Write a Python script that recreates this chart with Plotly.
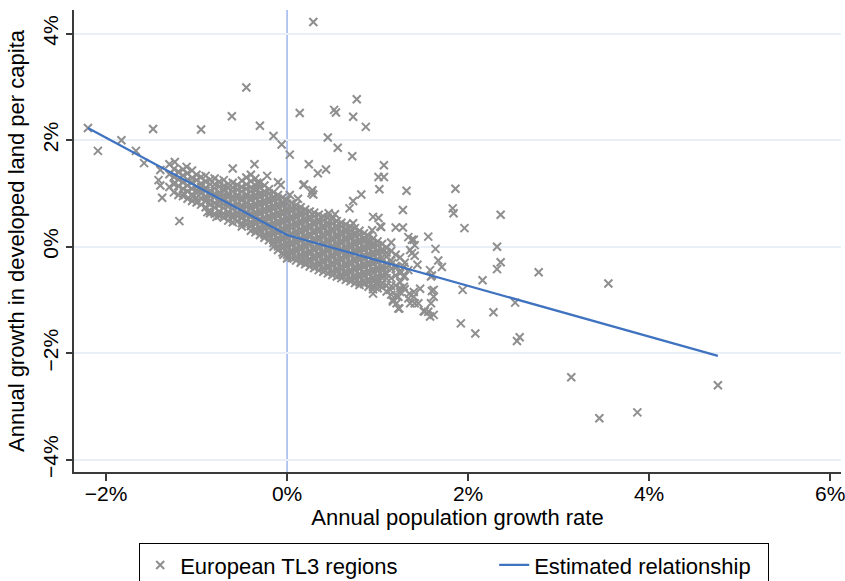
import plotly.graph_objects as go

# ---------------- data (percent) ----------------
# scattered regions
outlier_x = [0.29, -0.45, -2.20, -2.09, -1.83, -1.48, -0.95, -0.61, -0.30, -0.15, -0.06, 0.03,
             0.14, 0.52, 0.54, 0.73, 0.77, 0.87, 0.45, 0.56, 0.72, 0.24, 0.34, 0.43, 0.19,
             0.28, 0.29, 0.27, 0.12, 0.03, -0.60, -0.36, -0.22, -0.10, -0.07, -1.24, -1.11,
             -1.40, -1.58, -1.67, -1.19, -1.38, -1.42, -1.40, -1.20, -1.24, -1.15, -1.14,
             -1.04, -0.96, -0.89, -0.85, -0.78, -0.88, 1.07, 1.01, 1.07, 1.02, 0.82, 0.73,
             0.69, 1.32, 1.28, 1.86, 1.83, 1.84, 1.96, 0.95, 1.01, 1.04, 0.94, 1.20, 1.28,
             1.15, 1.56, 1.64, 1.67, 1.71, 1.60, 1.47, 1.60, 1.59, 1.52, 1.58, 1.92, 2.08,
             1.94, 1.38, 1.38, 1.41, 1.36, 1.23, 1.17, 2.36, 2.32, 2.36, 2.32, 2.78, 3.55,
             2.16, 2.52, 2.28, 2.54, 2.57, 3.14, 3.45, 3.87, 4.76, 1.34, 1.40, 1.36, 1.41,
             1.44, 1.40, 1.40, 1.45, 1.51, 1.56, 1.62, 1.58, 1.59, 1.62, 1.62, 1.25, 1.23,
             1.17, 1.21, 1.24, 1.35, 1.34, 0.95, 0.99, 1.08, 1.14, 1.29, 1.16, 1.21, 1.25,
             0.46, 0.53, 0.73, 1.03, 1.41, 0.18, 0.18, 0.66, 0.70, 0.90, 0.94, 1.29, 1.29,
             1.34, -0.04, 0.01, 0.16, 0.59, -0.33, -0.33, -0.69]
outlier_y = [4.22, 2.99, 2.23, 1.80, 2.00, 2.21, 2.20, 2.45, 2.27, 2.08, 1.92, 1.73,
             2.51, 2.57, 2.52, 2.44, 2.77, 2.25, 2.05, 1.86, 1.70, 1.55, 1.38, 1.45, 1.17,
             1.06, 0.98, 1.01, 0.90, 0.97, 1.47, 1.55, 1.33, 1.21, 1.16, 1.59, 1.50,
             1.44, 1.57, 1.80, 0.48, 0.92, 1.25, 1.15, 1.40, 1.20, 1.21, 1.00,
             0.94, 1.06, 0.88, 0.63, 0.56, 0.65, 1.53, 1.31, 1.31, 1.08, 0.98, 0.86,
             0.72, 1.05, 0.69, 1.09, 0.72, 0.63, 0.35, 0.56, 0.54, 0.37, 0.31, 0.36, 0.36,
             0.08, 0.19, -0.04, -0.26, -0.38, -0.54, -0.79, -0.83, -1.06, -1.21, -1.31, -1.44, -1.63,
             -0.81, 0.13, -0.12, -1.06, -1.06, -1.16, -1.00, 0.60, 0.00, -0.29, -0.42, -0.48, -0.69,
             -0.63, -1.05, -1.23, -1.77, -1.70, -2.45, -3.22, -3.11, -2.60, 0.18, 0.13, -0.06, -0.17,
             -0.34, -0.85, -0.94, -1.06, -1.21, -1.22, -1.28, -0.44, -0.56, -0.81, -0.94, -0.78, -0.94,
             -1.03, -1.06, -1.16, -0.88, -0.97, -0.88, -0.66, -0.50, -0.81, -0.75, -0.31, -0.38, -0.50,
             0.63, 0.61, 0.44, 0.38, 0.03, 0.66, 1.16, 0.31, 0.19, 0.06, 0.03, -0.56, -0.38,
             -0.44, -0.15, -0.20, -0.28, -0.53, 1.20, 1.08, 1.06]

# dense core of regions, read column by column (x: population growth, y values listed)
core_x = [-1.30, -1.25, -1.20, -1.15, -1.10, -1.05, -1.00, -0.95, -0.90, -0.85, -0.80, -0.75,
          -0.70, -0.65, -0.60, -0.55, -0.50, -0.45, -0.40, -0.35, -0.30, -0.25, -0.20, -0.15,
          -0.10, -0.05, 0.00, 0.05, 0.10, 0.15, 0.20, 0.25, 0.30, 0.35, 0.40, 0.45, 0.50, 0.55,
          0.60, 0.65, 0.70, 0.75, 0.80, 0.85, 0.90, 0.95, 1.00, 1.05, 1.10, 1.15, 1.20, 1.25, 1.30]
core_y = [
    [1.55, 1.36, 1.12],
    [1.46, 1.31, 1.17, 1.02],
    [1.41, 1.26, 1.14, 0.97],
    [1.45, 1.34, 1.21, 1.09, 0.95],
    [1.38, 1.26, 1.15, 1.04, 0.90],
    [1.43, 1.29, 1.21, 1.09, 0.98, 0.86],
    [1.35, 1.25, 1.13, 1.06, 0.92, 0.83],
    [1.31, 1.19, 1.12, 1.00, 0.91, 0.79],
    [1.33, 1.23, 1.11, 1.05, 0.94, 0.86, 0.74],
    [1.26, 1.17, 1.05, 0.98, 0.87, 0.79, 0.67],
    [1.28, 1.17, 1.10, 0.99, 0.93, 0.82, 0.74, 0.62],
    [1.22, 1.13, 1.02, 0.96, 0.85, 0.78, 0.66, 0.58],
    [1.25, 1.14, 1.07, 0.97, 0.91, 0.80, 0.73, 0.62, 0.55],
    [1.18, 1.10, 0.99, 0.93, 0.83, 0.76, 0.65, 0.59, 0.49],
    [1.20, 1.11, 1.04, 0.94, 0.88, 0.78, 0.71, 0.61, 0.55, 0.46],
    [1.16, 1.07, 0.97, 0.91, 0.81, 0.74, 0.64, 0.58, 0.48],
    [1.24, 1.12, 1.04, 0.93, 0.87, 0.77, 0.71, 0.61, 0.54, 0.44, 0.38],
    [1.30, 1.17, 1.09, 0.98, 0.92, 0.82, 0.75, 0.65, 0.59, 0.49, 0.42],
    [1.35, 1.23, 1.11, 1.04, 0.94, 0.88, 0.78, 0.72, 0.62, 0.56, 0.46, 0.39, 0.30],
    [1.28, 1.15, 1.07, 0.97, 0.91, 0.81, 0.75, 0.65, 0.59, 0.49, 0.43, 0.33, 0.27],
    [1.20, 1.11, 1.00, 0.94, 0.84, 0.78, 0.68, 0.62, 0.52, 0.46, 0.36, 0.30, 0.22],
    [1.15, 1.04, 0.97, 0.87, 0.81, 0.71, 0.65, 0.55, 0.49, 0.39, 0.33, 0.23, 0.17],
    [1.08, 1.00, 0.90, 0.84, 0.74, 0.68, 0.58, 0.52, 0.42, 0.36, 0.26, 0.20, 0.12],
    [1.02, 0.93, 0.87, 0.77, 0.71, 0.61, 0.55, 0.45, 0.39, 0.29, 0.23, 0.13, 0.07, 0.00],
    [0.97, 0.90, 0.80, 0.74, 0.64, 0.58, 0.48, 0.42, 0.32, 0.26, 0.16, 0.10, 0.01, -0.06],
    [0.92, 0.83, 0.77, 0.67, 0.61, 0.51, 0.45, 0.35, 0.29, 0.19, 0.13, 0.04, -0.03, -0.11],
    [0.88, 0.81, 0.71, 0.65, 0.55, 0.49, 0.39, 0.33, 0.23, 0.17, 0.07, 0.01, -0.09, -0.15, -0.22],
    [0.82, 0.73, 0.67, 0.57, 0.51, 0.41, 0.35, 0.25, 0.19, 0.09, 0.03, -0.07, -0.13, -0.21],
    [0.78, 0.71, 0.61, 0.55, 0.45, 0.39, 0.29, 0.23, 0.13, 0.07, -0.03, -0.09, -0.19, -0.26],
    [0.74, 0.65, 0.59, 0.49, 0.43, 0.33, 0.27, 0.17, 0.11, 0.01, -0.05, -0.15, -0.21, -0.30],
    [0.70, 0.63, 0.53, 0.47, 0.37, 0.31, 0.21, 0.15, 0.05, -0.01, -0.11, -0.17, -0.27, -0.33],
    [0.66, 0.57, 0.51, 0.41, 0.35, 0.25, 0.19, 0.09, 0.03, -0.07, -0.13, -0.23, -0.29, -0.37],
    [0.64, 0.57, 0.47, 0.41, 0.31, 0.25, 0.15, 0.09, -0.01, -0.07, -0.17, -0.23, -0.33, -0.40],
    [0.60, 0.51, 0.45, 0.35, 0.29, 0.19, 0.13, 0.03, -0.03, -0.13, -0.19, -0.29, -0.35, -0.44],
    [0.57, 0.50, 0.40, 0.34, 0.24, 0.18, 0.08, 0.02, -0.08, -0.14, -0.24, -0.30, -0.40, -0.47],
    [0.55, 0.45, 0.39, 0.29, 0.23, 0.13, 0.07, -0.03, -0.09, -0.19, -0.25, -0.35, -0.41, -0.50],
    [0.52, 0.44, 0.34, 0.28, 0.18, 0.12, 0.02, -0.04, -0.14, -0.20, -0.30, -0.36, -0.46, -0.53],
    [0.48, 0.39, 0.33, 0.23, 0.17, 0.07, 0.01, -0.09, -0.15, -0.25, -0.31, -0.41, -0.47, -0.56],
    [0.45, 0.38, 0.28, 0.22, 0.12, 0.06, -0.04, -0.10, -0.20, -0.26, -0.36, -0.42, -0.52, -0.59],
    [0.42, 0.33, 0.27, 0.17, 0.11, 0.01, -0.05, -0.15, -0.21, -0.31, -0.37, -0.47, -0.53, -0.62],
    [0.38, 0.31, 0.21, 0.15, 0.05, -0.01, -0.11, -0.17, -0.27, -0.33, -0.43, -0.49, -0.59, -0.65],
    [0.35, 0.26, 0.20, 0.10, 0.04, -0.06, -0.12, -0.22, -0.28, -0.38, -0.44, -0.54, -0.60, -0.68],
    [0.30, 0.23, 0.13, 0.07, -0.03, -0.09, -0.19, -0.25, -0.35, -0.41, -0.51, -0.57, -0.67, -0.72],
    [0.25, 0.16, 0.10, 0.00, -0.06, -0.16, -0.22, -0.32, -0.38, -0.48, -0.54, -0.64, -0.70],
    [0.20, 0.13, 0.03, -0.03, -0.13, -0.19, -0.29, -0.35, -0.45, -0.51, -0.61, -0.67, -0.75],
    [0.15, 0.06, 0.00, -0.10, -0.16, -0.26, -0.32, -0.42, -0.48, -0.58, -0.64, -0.74, -0.80],
    [0.10, 0.03, -0.07, -0.13, -0.23, -0.29, -0.39, -0.45, -0.55, -0.61, -0.71, -0.78],
    [0.05, -0.05, -0.11, -0.21, -0.27, -0.37, -0.43, -0.53, -0.59, -0.69, -0.76],
    [-0.02, -0.11, -0.19, -0.31, -0.39, -0.51, -0.59, -0.73, -0.84],
    [-0.08, -0.26, -0.41, -0.59, -0.74, -0.90],
    [-0.15, -0.36, -0.54, -0.73, -0.92],
    [-0.20, -0.46, -0.67, -0.85],
    [-0.30, -0.55, -0.80],
]

# estimated (piecewise-linear) relationship
fit_x = [-2.20, 0.00, 4.76]
fit_y = [2.23, 0.22, -2.05]

x_ticks = [-2, 0, 2, 4, 6]
x_ticklabels = ["\u22122%", "0%", "2%", "4%", "6%"]
y_ticks = [-4, -2, 0, 2, 4]
y_ticklabels = ["\u22124%", "\u22122%", "0%", "2%", "4%"]

series_names = ["European TL3 regions", "Estimated relationship"]

# ---------------- build ----------------
pts_x = list(outlier_x)
pts_y = list(outlier_y)
for cx, ys in zip(core_x, core_y):
    for yv in ys:
        pts_x.append(cx)
        pts_y.append(yv)

GRAY = "#8f8f8f"
BLUE = "#3f73c0"
REF = "#a4b9ee"
AX = "#3a3a3a"
FONT = "Liberation Sans, Arial, Helvetica, sans-serif"
NB = "\u00a0"

fig = go.Figure()
fig.add_trace(go.Scatter(
    x=pts_x, y=pts_y, mode="markers", name=series_names[0] + NB * 15,
    marker=dict(symbol="x-thin", size=8, color=GRAY, line=dict(color=GRAY, width=2)),
))
fig.add_trace(go.Scatter(
    x=fit_x, y=fit_y, mode="lines", name=series_names[1] + NB * 2,
    line=dict(color=BLUE, width=2.2),
))

fig.add_shape(type="line", xref="x", yref="paper", x0=0, x1=0, y0=0, y1=1,
              line=dict(color=REF, width=1.6), layer="below")
fig.add_shape(type="line", xref="paper", yref="y", x0=0, x1=1, y0=0, y1=0,
              line=dict(color=REF, width=1.6), layer="below")

fig.update_layout(
    width=845, height=581,
    margin=dict(l=74, r=4, t=10, b=109, autoexpand=False),
    paper_bgcolor="white", plot_bgcolor="white",
    font=dict(family=FONT, size=21, color="#000000"),
    showlegend=True,
    legend=dict(orientation="h", x=0.085, xanchor="left", y=-0.154, yanchor="top",
                bordercolor="#000000", borderwidth=1, bgcolor="white",
                font=dict(family=FONT, size=22)),
    xaxis=dict(range=[-2.354, 6.12], tickvals=x_ticks, ticktext=x_ticklabels,
               automargin=False, ticklabeloverflow="allow",
               showgrid=False, zeroline=False, showline=True, linecolor=AX, linewidth=1.5,
               ticks="outside", ticklen=7, tickwidth=1.5, tickcolor=AX,
               ticklabelstandoff=-5,
               tickfont=dict(size=21),
               title=dict(text="Annual population growth rate", font=dict(size=22), standoff=2)),
    yaxis=dict(range=[-4.23, 4.445], tickvals=y_ticks, ticktext=y_ticklabels,
               automargin=False,
               showgrid=True, gridcolor="#e9eff7", gridwidth=1.5, zeroline=False,
               showline=True, linecolor=AX, linewidth=1.5,
               ticks="outside", ticklen=6, tickwidth=1.5, tickcolor=AX, tickangle=-90,
               tickfont=dict(size=21),
               title=dict(text="Annual growth in developed land per capita", font=dict(size=22),
                          standoff=8)),
)

fig.write_html("out.html", config={"displayModeBar": False},
               post_script="document.body.style.margin='0';")
